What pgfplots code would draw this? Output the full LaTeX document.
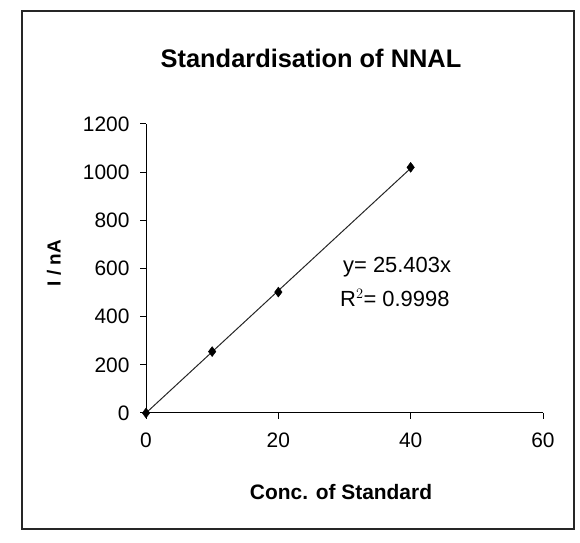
\documentclass[border=0pt]{standalone}
\usepackage{fontspec}
\setmainfont{Liberation Sans}
\usepackage{pgfplots}
\pgfplotsset{compat=1.18}
\begin{document}
\begin{tikzpicture}
\useasboundingbox (0,0) rectangle (580bp,543bp);
\draw[line width=1.2bp, black!85] (22bp,14bp) rectangle (574bp,532bp);
\node[font=\fontsize{25.5}{28}\selectfont\bfseries] at (311bp,485bp) {Standardisation of NNAL};
\begin{axis}[
  at={(146bp,130bp)}, anchor=south west,
  width=397bp, height=289bp, scale only axis,
  xmin=0, xmax=60, ymin=0, ymax=1200,
  axis x line=bottom, axis y line=left,
  axis line style={-, line width=1bp, black},
  xtick={0,20,40,60}, ytick={0,200,400,600,800,1000,1200},
  tick align=outside, major tick length=6bp,
  tick style={line width=1bp, black},
  ticklabel style={font=\fontsize{21}{24}\selectfont},
  xticklabel style={yshift=-10bp},
  yticklabel style={xshift=-7bp},
  /pgf/number format/assume math mode=true,
  /pgf/number format/1000 sep={},
  clip=false,
]
\addplot[line width=1bp, black!85] coordinates {(0,0) (40,1016.12)};
\addplot[only marks, mark=diamond*, mark size=5bp, black] coordinates {(0,0) (10,255) (20,502) (40,1020)};
\end{axis}
\node[font=\fontsize{21}{24}\selectfont\bfseries] at (341bp,51bp) {Conc. of Standard};
\node[font=\fontsize{19}{22}\selectfont\bfseries, rotate=90] at (54bp,280bp) {I / nA};
\node[font=\fontsize{22}{25}\selectfont, anchor=west, inner sep=0pt] at (343bp,276bp) {y= 25.403x};
\node[font=\fontsize{22}{25}\selectfont, anchor=west, inner sep=0pt] at (340bp,245bp) {R$^2$= 0.9998};
\end{tikzpicture}
\end{document}
